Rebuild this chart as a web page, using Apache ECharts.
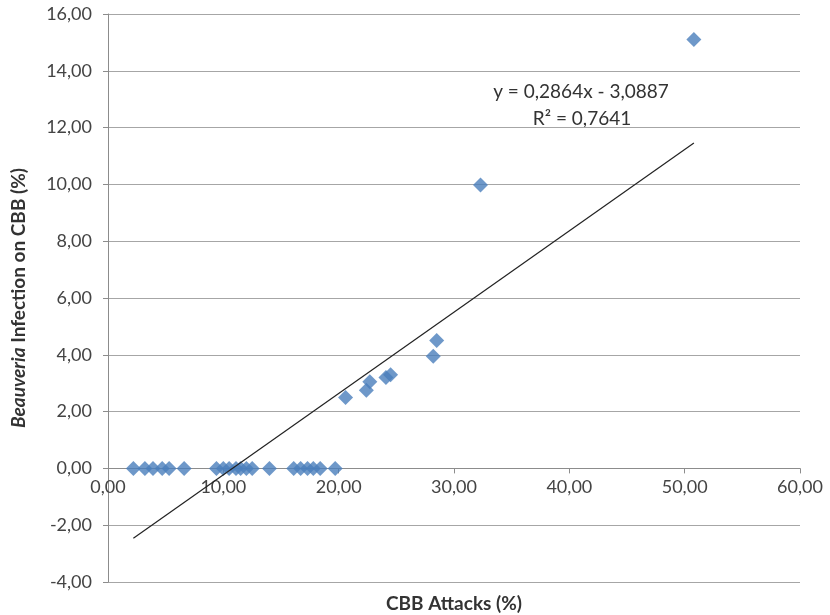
<!DOCTYPE html>
<html>
<head>
<meta charset="utf-8">
<script src="https://cdn.jsdelivr.net/npm/echarts@6/dist/echarts.min.js"></script>
<style>
  html, body { margin: 0; padding: 0; background: #fff; }
  #chart { width: 830px; height: 615px; }
</style>
</head>
<body>
<div id="chart"></div>
<script>
// CBB attacks (%) vs Beauveria infection (%)
const attacks = [
  2.2, 3.2, 3.9, 4.7, 5.3, 6.6, 9.4, 10.0, 10.5, 11.1, 11.5, 12.0, 12.5, 14.0,
  16.1, 16.7, 17.3, 17.8, 18.4, 19.7,
  20.6, 22.4, 22.7, 24.1, 24.5, 28.2, 28.5, 32.3, 50.8
];
const infection = [
  0, 0, 0, 0, 0, 0, 0, 0, 0, 0, 0, 0, 0, 0,
  0, 0, 0, 0, 0, 0,
  2.5, 2.75, 3.05, 3.2, 3.3, 3.95, 4.5, 9.98, 15.1
];
const slope = 0.2864;
const intercept = -3.0887;
const eqLabel = 'y = 0,2864x - 3,0887';
const r2Label = 'R² = 0,7641';

const fmt = v => v.toFixed(2).replace('.', ',');
const FONT = 'Lato, "Open Sans", sans-serif';

const points = attacks.map((x, i) => [x, infection[i]]);
const xMin = Math.min(...attacks);
const xMax = Math.max(...attacks);
const trend = [[xMin, slope * xMin + intercept], [xMax, slope * xMax + intercept]];

// plot box
const gridTop = 14, gridBottom = 33, yMin = -4, yMax = 16;
const plotH = 615 - gridTop - gridBottom;
// lift the x axis up to y = 0 (onZero is not honoured here)
const xAxisOffset = -plotH * (0 - yMin) / (yMax - yMin);

const chart = echarts.init(document.getElementById('chart'));
chart.setOption({
  animation: false,
  backgroundColor: '#fff',
  grid: { left: 108, right: 30, top: gridTop, bottom: gridBottom, outerBoundsMode: 'none', containLabel: false },
  xAxis: {
    type: 'value',
    min: 0, max: 60, interval: 10,
    position: 'bottom',
    offset: xAxisOffset,
    name: 'CBB Attacks (%)',
    nameLocation: 'middle',
    nameGap: 126,
    nameTextStyle: { fontFamily: FONT, fontSize: 19, fontWeight: 'bold', color: '#333' },
    axisLine: { onZero: false, lineStyle: { color: '#8c8c8c' } },
    axisTick: { show: true, length: 5, lineStyle: { color: '#8c8c8c' } },
    axisLabel: { formatter: fmt, fontFamily: FONT, fontSize: 18, color: '#444', margin: 10 },
    splitLine: { show: false }
  },
  yAxis: {
    type: 'value',
    min: yMin, max: yMax, interval: 2,
    name: '{i|Beauveria} Infection on CBB (%)',
    nameLocation: 'middle',
    nameGap: 80,
    nameRotate: 90,
    nameTextStyle: {
      fontFamily: FONT, fontSize: 19, fontWeight: 'bold', color: '#333',
      rich: { i: { fontFamily: FONT, fontSize: 19, fontWeight: 'bold', fontStyle: 'italic', color: '#333' } }
    },
    axisLine: { show: true, lineStyle: { color: '#8c8c8c' } },
    axisTick: { show: true, length: 5, lineStyle: { color: '#8c8c8c' } },
    axisLabel: { formatter: fmt, fontFamily: FONT, fontSize: 18, color: '#444', margin: 16 },
    splitLine: { show: true, lineStyle: { color: '#a6a6a6', width: 1 } }
  },
  series: [
    {
      type: 'scatter',
      data: points,
      symbol: 'diamond',
      symbolSize: 15,
      itemStyle: { color: '#4a7ebb' },
      z: 3
    },
    {
      type: 'line',
      data: trend,
      symbol: 'none',
      lineStyle: { color: '#222', width: 1.2 },
      z: 4
    }
  ],
  graphic: [
    {
      type: 'text', x: 581, y: 92,
      style: { text: eqLabel, fontFamily: FONT, fontSize: 19, fill: '#333', align: 'center', verticalAlign: 'middle' }
    },
    {
      type: 'text', x: 582, y: 119,
      style: { text: r2Label, fontFamily: FONT, fontSize: 19, fill: '#333', align: 'center', verticalAlign: 'middle' }
    }
  ]
});
</script>
</body>
</html>
